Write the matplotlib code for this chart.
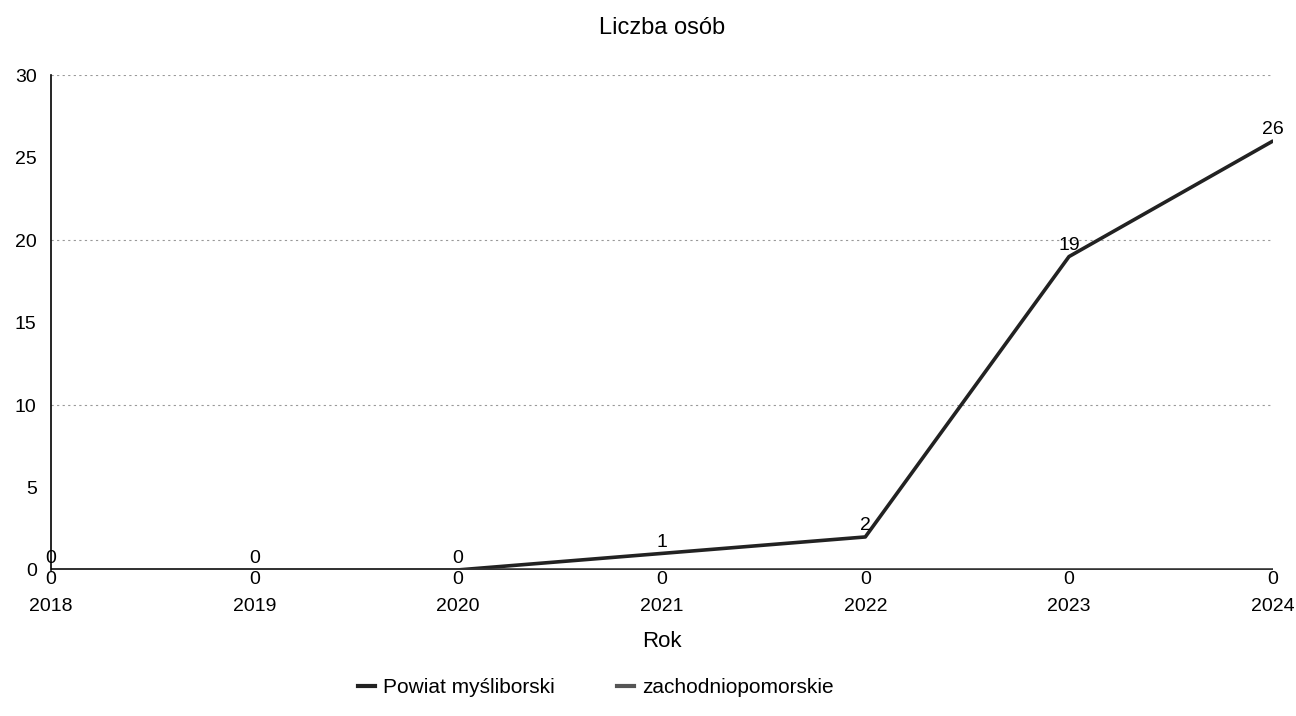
import matplotlib.pyplot as plt

years = ['2018', '2019', '2020', '2021', '2022', '2023', '2024']
zachodniopomorskie = [0, 0, 0, 1, 2, 19, 26]
powiat = [0, 0, 0, 0, 0, 0, 0]

plt.rcParams['font.family'] = ['Liberation Sans', 'DejaVu Sans']

fig = plt.figure(figsize=(12.96, 7.16), dpi=100)
ax = fig.add_axes([0.039, 0.204, 0.943, 0.691])

x = list(range(len(years)))
ax.plot(x, zachodniopomorskie, color='#222222', lw=2.6, solid_capstyle='round')
ax.plot(x, powiat, color='#333333', lw=2.6, solid_capstyle='round')

# value labels
for i, v in enumerate(zachodniopomorskie):
    ax.annotate(str(v), (i, v), xytext=(0, 2), textcoords='offset points',
                ha='center', va='bottom', fontsize=14, color='black')
for i, v in enumerate(powiat):
    ax.annotate(str(v), (i, v), xytext=(0, -1), textcoords='offset points',
                ha='center', va='top', fontsize=14, color='black')

ax.set_xlim(0, len(years) - 1)
ax.set_ylim(0, 30)
ax.set_yticks([0, 5, 10, 15, 20, 25, 30])
ax.set_xticks(x)
ax.set_xticklabels(years)
ax.tick_params(length=0, labelsize=14, pad=10)
ax.tick_params(axis='x', pad=20)
# dotted grid only every 10
ax.yaxis.remove_overlapping_locs = False
ax.set_yticks([10, 20, 30], minor=True)
ax.grid(axis='y', which='minor', color='#999999', linestyle=(0, (2, 3)), lw=0.8)
ax.tick_params(which='minor', length=0)
for s in ['top', 'right', 'bottom']:
    ax.spines[s].set_visible(False)
ax.spines['left'].set_color('black')
ax.spines['left'].set_linewidth(1.2)

ax.set_title('Liczba osób', fontsize=17, pad=30)
ax.set_xlabel('Rok', fontsize=16, labelpad=12)

handles = [plt.Line2D([], [], color='#222222', lw=3),
           plt.Line2D([], [], color='#555555', lw=3)]
fig.legend(handles, ['Powiat myśliborski', 'zachodniopomorskie'], loc='lower center',
           bbox_to_anchor=(0.46, 0.0), ncol=2, frameon=False, fontsize=15,
           handlelength=0.8, columnspacing=3, handletextpad=0.4)

fig.savefig('out.png', dpi=100)
